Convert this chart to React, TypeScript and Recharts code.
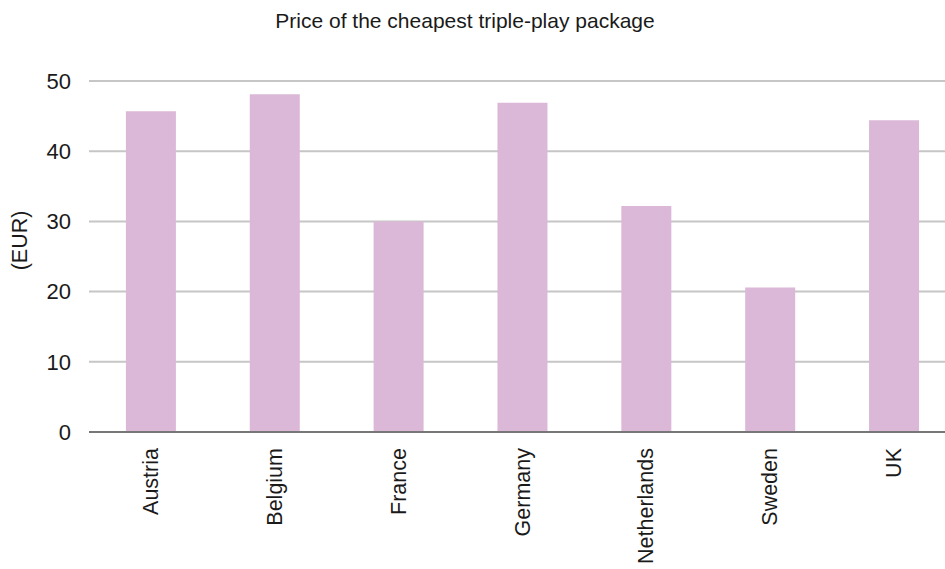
import { BarChart, Bar, XAxis, YAxis, CartesianGrid } from 'recharts';

// cheapest triple-play offer per country, EUR/month
const countries = ['Austria', 'Belgium', 'France', 'Germany', 'Netherlands', 'Sweden', 'UK'];
const prices = [45.7, 48.1, 30.0, 46.9, 32.2, 20.6, 44.4];
const yTicks = [0, 10, 20, 30, 40, 50];

const FONT = '"Liberation Sans", Arial, Helvetica, sans-serif';
const BAR_COLOR = '#dbb8d7';
const TEXT_COLOR = '#1a1a1a';

const data = countries.map((c, i) => ({ country: c, price: prices[i] }));

// rotated category label, anchored at its end just under the axis
function CountryTick(props: any) {
  const { x, y, payload } = props;
  return (
    <text
      x={x}
      y={y}
      transform={`rotate(-90 ${x} ${y})`}
      dx={-8}
      dy={7}
      textAnchor="end"
      fontSize={21.5}
      fontFamily={FONT}
      fill={TEXT_COLOR}
    >
      {payload.value}
    </text>
  );
}

export default function App() {
  return (
    <div
      style={{
        position: 'absolute',
        left: 0,
        top: 0,
        width: 945,
        height: 569,
        overflow: 'hidden',
        background: '#fff',
        fontFamily: FONT,
      }}
    >
      <div
        style={{
          position: 'absolute',
          left: 0,
          width: 930,
          top: 9,
          textAlign: 'center',
          fontSize: 21,
          color: TEXT_COLOR,
          whiteSpace: 'nowrap',
        }}
      >
        Price of the cheapest triple-play package
      </div>
      <BarChart
        width={960}
        height={569}
        data={data}
        margin={{ top: 81, right: 4, left: 0, bottom: 0 }}
        barCategoryGap="29.8%"
        style={{ position: 'absolute', left: 0, top: 0 }}
      >
        <CartesianGrid vertical={false} stroke="#c6c6c6" strokeWidth={2} />
        <XAxis
          dataKey="country"
          interval={0}
          height={137}
          tickLine={false}
          axisLine={{ stroke: '#777777', strokeWidth: 2 }}
          tick={<CountryTick />}
        />
        <YAxis
          width={89}
          domain={[0, 50]}
          ticks={yTicks}
          tickLine={false}
          axisLine={false}
          tickMargin={12}
          tick={{ fontSize: 22, fill: TEXT_COLOR, fontFamily: FONT }}
          label={{
            value: '(EUR)',
            angle: -90,
            position: 'insideLeft',
            dx: 14,
            dy: -16,
            fontSize: 21.5,
            fill: TEXT_COLOR,
            fontFamily: FONT,
            style: { textAnchor: 'middle' },
          }}
        />
        <Bar dataKey="price" fill={BAR_COLOR} isAnimationActive={false} />
      </BarChart>
    </div>
  );
}
